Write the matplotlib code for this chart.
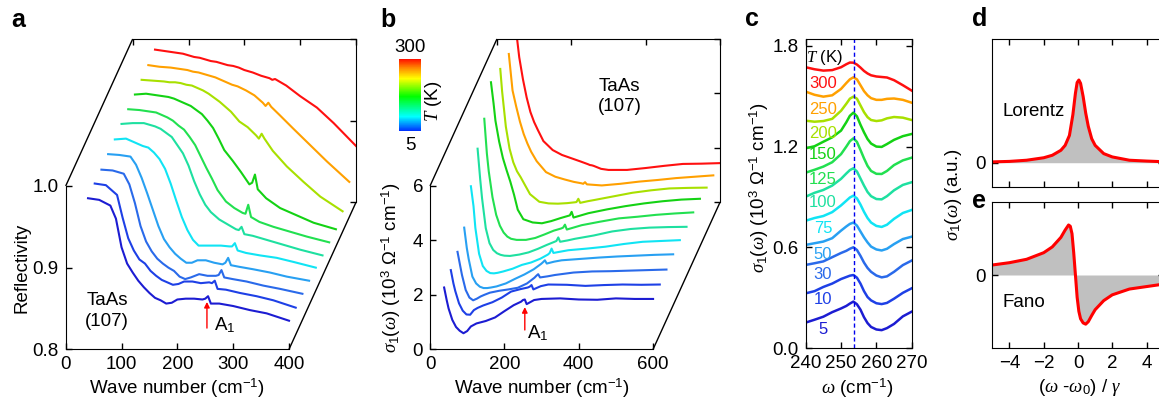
import numpy as np
import matplotlib
matplotlib.use("Agg")
import matplotlib.pyplot as plt
from matplotlib.colors import LinearSegmentedColormap, Normalize
from matplotlib.colorbar import ColorbarBase
from matplotlib.ticker import FormatStrFormatter

plt.rcParams['font.family'] = ['Liberation Sans', 'DejaVu Sans']
plt.rcParams['font.size'] = 13.5
plt.rcParams['mathtext.fontset'] = 'custom'
plt.rcParams['mathtext.rm'] = 'Liberation Sans'
plt.rcParams['mathtext.it'] = 'Liberation Serif:italic'
plt.rcParams['mathtext.bf'] = 'Liberation Sans:bold'

temps = [5, 10, 30, 50, 75, 100, 125, 150, 200, 250, 300]
colors = ['#1c1cd2', '#1e40e6', '#2a6aea', '#28a0f2', '#10e4f4', '#1ee0a0',
          '#22e050', '#14d214', '#a8e000', '#ffa000', '#ff1010']

# panel a: reflectivity, own wave number grid (cm-1)
a_wn = [40, 60, 80, 90, 100, 110, 120, 130, 140, 150, 160, 170, 180, 190, 200,
        215, 230, 245, 250, 255, 260, 275, 300, 330, 360, 400]
R_5 = [.985, .983, .976, .960, .925, .905, .894, .884, .876, .869, .863, .860, .856,
       .857, .861, .862, .862, .861, .862, .865, .856, .856, .853, .848, .844, .835]
R_10 = [.985, .983, .971, .943, .918, .903, .892, .887, .878, .872, .867, .864, .861,
        .862, .865, .865, .863, .864, .863, .866, .856, .855, .851, .847, .842, .833]
R_30 = [.984, .983, .979, .966, .943, .915, .896, .884, .875, .869, .864, .860, .853,
        .850, .852, .856, .854, .854, .855, .861, .852, .850, .847, .842, .838, .832]
R_50 = [.985, .984, .982, .972, .956, .937, .917, .897, .881, .871, .863, .857, .852,
        .852, .855, .855, .852, .850, .852, .858, .849, .847, .844, .840, .835, .830]
R_75 = [.985, .986, .980, .977, .975, .969, .961, .949, .931, .910, .890, .874, .862,
        .855, .855, .855, .855, .854, .854, .858, .849, .846, .843, .840, .835, .828]
R_100 = [.986, .987, .987, .985, .983, .980, .975, .970, .960, .950, .935, .916, .900,
         .887, .878, .869, .863, .857, .856, .860, .851, .849, .844, .838, .832, .825]
R_125 = [.986, .985, .983, .982, .979, .976, .972, .966, .961, .952, .942, .928, .914,
         .901, .887, .873, .865, .859, .858, .869, .854, .848, .842, .836, .830, .823]
R_150 = [.986, .987, .985, .984, .983, .981, .978, .975, .972, .967, .962, .954, .945,
         .932, .918, .905, .891, .876, .878, .888, .870, .859, .847, .838, .829, .821]
R_200 = [.986, .985, .984, .983, .983, .982, .980, .979, .976, .973, .969, .964, .959,
         .953, .947, .935, .928, .918, .914, .920, .914, .899, .880, .861, .843, .825]
R_250 = [.986, .984, .983, .982, .981, .980, .978, .977, .975, .973, .971, .968, .965,
         .962, .960, .955, .949, .940, .936, .940, .935, .925, .908, .888, .868, .843]
R_300 = [.987, .985, .983, .982, .980, .978, .977, .975, .973, .972, .970, .968, .967,
         .965, .962, .959, .955, .952, .950, .951, .949, .943, .930, .916, .897, .869]
a_curves = [R_5, R_10, R_30, R_50, R_75, R_100, R_125, R_150, R_200, R_250, R_300]

# panel b: optical conductivity (10^3 Ohm-1 cm-1)
nan = np.nan
b_wn = [38, 45, 50, 60, 70, 80, 90, 100, 110, 125, 150, 175, 200, 225, 245, 250,
        255, 260, 280, 300, 350, 400, 450, 500, 550, 600]
S_5 = [2.27, 1.80, 1.50, 1.08, 0.82, 0.68, 0.59, 0.67, 0.84, 0.95, 1.04, 1.17, 1.40,
       1.62, 1.75, 1.81, 1.83, 1.66, 1.81, 1.85, 1.87, 1.83, 1.82, 1.87, 1.85, 1.85]
S_10 = [2.37, 1.88, 1.60, 1.15, 0.88, 0.74, 0.73, 0.90, 0.98, 1.07, 1.19, 1.36, 1.58,
        1.67, 1.73, 1.76, 1.82, 1.66, 1.78, 1.84, 1.83, 1.79, 1.82, 1.84, 1.83, 1.84]
S_30 = [2.50, 2.00, 1.65, 1.10, 0.82, 0.72, 0.78, 0.86, 0.92, 1.00, 1.07, 1.12, 1.18,
        1.34, 1.55, 1.62, 1.68, 1.56, 1.60, 1.65, 1.74, 1.78, 1.79, 1.81, 1.83, 1.85]
S_50 = [2.85, 2.10, 1.70, 1.05, 0.80, 0.68, 0.63, 0.63, 0.65, 0.69, 0.80, 0.97, 1.13,
        1.32, 1.52, 1.58, 1.65, 1.53, 1.60, 1.65, 1.70, 1.75, 1.79, 1.82, 1.85, 1.87]
S_75 = [3.83, 3.10, 2.30, 1.35, 0.90, 0.72, 0.64, 0.63, 0.65, 0.70, 0.80, 0.94, 1.03,
        1.17, 1.32, 1.38, 1.54, 1.38, 1.43, 1.48, 1.54, 1.61, 1.71, 1.79, 1.82, 1.85]
S_100 = [4.67, 3.55, 2.85, 1.75, 1.20, 0.95, 0.83, 0.77, 0.74, 0.73, 0.78, 0.86, 0.99,
         1.14, 1.25, 1.28, 1.41, 1.25, 1.30, 1.36, 1.48, 1.63, 1.72, 1.77, 1.79, 1.80]
S_125 = [5.23, 3.95, 3.30, 2.35, 1.70, 1.30, 1.05, 0.90, 0.82, 0.78, 0.78, 0.85, 0.98,
         1.12, 1.20, 1.23, 1.34, 1.16, 1.24, 1.32, 1.45, 1.57, 1.63, 1.70, 1.75, 1.79]
S_150 = [6.03, 5.25, 4.62, 3.85, 3.25, 2.80, 2.38, 1.90, 1.35, 1.00, 0.88, 0.85, 0.93,
         1.04, 1.12, 1.14, 1.27, 1.06, 1.14, 1.22, 1.36, 1.48, 1.58, 1.66, 1.72, 1.75]
S_200 = [nan, 5.98, 5.15, 3.86, 3.05, 2.55, 2.22, 2.00, 1.75, 1.38, 1.10, 1.04, 1.03,
         1.05, 1.08, 1.09, 1.21, 1.06, 1.12, 1.17, 1.30, 1.43, 1.52, 1.59, 1.61, 1.62]
S_250 = [nan, nan, 5.99, 4.65, 4.05, 3.50, 3.05, 2.70, 2.40, 2.05, 1.65, 1.48, 1.38,
         1.29, 1.24, 1.22, 1.28, 1.20, 1.18, 1.16, 1.22, 1.30, 1.36, 1.43, 1.48, 1.53]
S_300 = [nan, nan, 6.50, 5.33, 4.52, 3.85, 3.32, 2.95, 2.66, 2.25, 1.92, 1.74, 1.62,
         1.50, 1.40, 1.37, 1.36, 1.34, 1.23, 1.19, 1.19, 1.26, 1.34, 1.41, 1.42, 1.44]
b_curves = [S_5, S_10, S_30, S_50, S_75, S_100, S_125, S_150, S_200, S_250, S_300]

# panel c: A1 phonon region, curves offset for clarity
c_w = [240, 242.5, 245, 247.5, 250, 251.5, 252.5, 253.5, 254.5, 255.5, 256.5, 257.5,
       258.5, 260, 261.5, 263, 265, 267.5, 270]
c_5 = [0.153, 0.170, 0.188, 0.215, 0.237, 0.252, 0.266, 0.278, 0.262, 0.230, 0.185,
       0.150, 0.127, 0.112, 0.108, 0.120, 0.145, 0.190, 0.218]
c_10 = [0.327, 0.340, 0.365, 0.385, 0.412, 0.424, 0.432, 0.436, 0.420, 0.385, 0.340,
        0.305, 0.285, 0.268, 0.263, 0.270, 0.295, 0.330, 0.357]
c_30 = [0.496, 0.506, 0.517, 0.542, 0.567, 0.580, 0.592, 0.601, 0.585, 0.550, 0.510,
        0.478, 0.455, 0.433, 0.422, 0.428, 0.455, 0.495, 0.522]
c_50 = [0.615, 0.625, 0.635, 0.655, 0.700, 0.725, 0.740, 0.748, 0.730, 0.695, 0.660,
        0.630, 0.605, 0.588, 0.582, 0.592, 0.620, 0.650, 0.664]
c_75 = [0.759, 0.775, 0.787, 0.810, 0.850, 0.878, 0.897, 0.908, 0.892, 0.855, 0.812,
        0.775, 0.748, 0.728, 0.722, 0.735, 0.770, 0.805, 0.823]
c_100 = [0.902, 0.925, 0.942, 0.968, 1.008, 1.040, 1.060, 1.071, 1.052, 1.010, 0.968,
         0.930, 0.905, 0.888, 0.886, 0.905, 0.940, 0.972, 0.988]
c_125 = [1.045, 1.062, 1.081, 1.107, 1.155, 1.200, 1.232, 1.249, 1.228, 1.180, 1.130,
         1.085, 1.055, 1.038, 1.037, 1.055, 1.090, 1.118, 1.134]
c_150 = [1.190, 1.202, 1.229, 1.255, 1.295, 1.345, 1.383, 1.402, 1.380, 1.330, 1.285,
         1.245, 1.218, 1.200, 1.198, 1.215, 1.240, 1.262, 1.275]
c_200 = [1.354, 1.348, 1.352, 1.365, 1.413, 1.455, 1.485, 1.497, 1.485, 1.445, 1.405,
         1.375, 1.358, 1.352, 1.356, 1.368, 1.376, 1.372, 1.358]
c_250 = [1.527, 1.508, 1.497, 1.505, 1.543, 1.578, 1.600, 1.612, 1.600, 1.565, 1.530,
         1.505, 1.488, 1.478, 1.478, 1.484, 1.486, 1.478, 1.461]
c_300 = [1.672, 1.660, 1.652, 1.655, 1.672, 1.690, 1.700, 1.699, 1.688, 1.670, 1.650,
         1.635, 1.624, 1.617, 1.614, 1.611, 1.595, 1.565, 1.533]
c_curves = [c_5, c_10, c_30, c_50, c_75, c_100, c_125, c_150, c_200, c_250, c_300]
a1_line = 253.6

# panels d, e: model line shapes
d_x = [-5, -4, -3, -2, -1.5, -1, -0.75, -0.5, -0.3, -0.15, -0.05, 0.05, 0.15, 0.3,
       0.45, 0.6, 0.8, 1.0, 1.5, 2, 3, 4, 5]
lorentz = [0.01, 0.016, 0.03, 0.06, 0.09, 0.15, 0.21, 0.33, 0.58, 0.84, 0.97, 1.0,
           0.96, 0.80, 0.60, 0.44, 0.29, 0.21, 0.11, 0.07, 0.03, 0.02, 0.012]
e_x = [-5, -4, -3, -2, -1.5, -1, -0.75, -0.55, -0.45, -0.35, -0.25, -0.15, -0.05,
       0.05, 0.15, 0.3, 0.45, 0.6, 0.8, 1.0, 1.5, 2, 3, 4, 5]
fano = [0.121, 0.149, 0.19, 0.27, 0.34, 0.455, 0.544, 0.605, 0.59, 0.50, 0.27, 0.0,
        -0.27, -0.44, -0.53, -0.58, -0.595, -0.565, -0.49, -0.42, -0.31, -0.24,
        -0.17, -0.14, -0.11]

W, H = 1159, 405
fig = plt.figure(figsize=(W / 100, H / 100), dpi=100)


def box(l, t, r, b):
    return [l / W, 1 - b / H, (r - l) / W, (b - t) / H]


def waterfall(ax, wn, curves, xmax, ylo, yhi, dx, dy, xt, yt):
    n = len(curves)
    sx, sy = dx * (n - 1), dy * (n - 1)
    for i, vals in enumerate(curves):
        ax.plot(np.array(wn, float) + i * dx, np.array(vals, float) + i * dy,
                color=colors[i], lw=1.5)
    ax.set_xlim(0, xmax + sx)
    ax.set_ylim(ylo, yhi + sy)
    ax.spines['left'].set_bounds(ylo, yhi)
    ax.spines['bottom'].set_bounds(0, xmax)
    ax.spines['top'].set_bounds(sx, xmax + sx)
    ax.spines['right'].set_bounds(ylo + sy, yhi + sy)
    kw = dict(color='k', lw=1.0, clip_on=False, solid_capstyle='butt')
    ax.plot([0, sx], [yhi, yhi + sy], **kw)
    ax.plot([xmax, xmax + sx], [ylo, ylo + sy], **kw)
    ax.set_xticks(xt)
    ax.set_yticks(yt)
    ax.tick_params(direction='in', length=4.5, width=1, pad=5, top=False, right=False)
    top = ax.secondary_xaxis('top', functions=(lambda x: x - sx, lambda x: x + sx))
    top.set_ticks(xt, labels=[''] * len(xt))
    top.tick_params(direction='in', length=4.5, width=1)
    right = ax.secondary_yaxis('right', functions=(lambda y: y - sy, lambda y: y + sy))
    right.set_ticks(yt, labels=[''] * len(yt))
    right.tick_params(direction='in', length=4.5, width=1)
    for s in list(top.spines.values()) + list(right.spines.values()):
        s.set_visible(False)
    fx = (xmax / 2) / (xmax + sx)
    fy = ((ylo + yhi) / 2 - ylo) / (yhi + sy - ylo)
    return fx, fy


sig_label = r'$\sigma_1$($\omega$) (10$^3$ $\Omega^{-1}$ cm$^{-1}$)'
wn_label = r'Wave number (cm$^{-1}$)'

# ---- a
axa = fig.add_axes(box(65.7, 39, 356, 349.3))
fx, fy = waterfall(axa, a_wn, a_curves, 400, 0.8, 1.0, 12, 0.018,
                   [0, 100, 200, 300, 400], [0.8, 0.9, 1.0])
axa.yaxis.set_major_formatter(FormatStrFormatter('%.1f'))
axa.text(fx, -0.125, wn_label, transform=axa.transAxes, ha='center', va='center')
axa.text(-0.152, fy, 'Reflectivity', transform=axa.transAxes, rotation=90,
         ha='center', va='center')
axa.text(74, 0.847, 'TaAs\n(107)', ha='center', va='center', linespacing=1.25)
axa.annotate('', xy=(253, 0.858), xytext=(253, 0.826),
             arrowprops=dict(arrowstyle='-|>', color='red', lw=1, mutation_scale=8,
                             shrinkA=0, shrinkB=0))
axa.text(266, 0.830, r'A$_1$', ha='left', va='center')

# ---- b
axb = fig.add_axes(box(430, 39, 720, 349.3))
fx, fy = waterfall(axb, b_wn, b_curves, 600, 0, 6, 18, 0.54,
                   [0, 200, 400, 600], [0, 2, 4, 6])
axb.text(fx, -0.125, wn_label, transform=axb.transAxes, ha='center', va='center')
axb.text(-0.133, fy, sig_label, transform=axb.transAxes, rotation=90,
         ha='center', va='center')
axb.text(510, 9.3, 'TaAs\n(107)', ha='center', va='center', linespacing=1.25)
axb.annotate('', xy=(255, 1.55), xytext=(255, 0.71),
             arrowprops=dict(arrowstyle='-|>', color='red', lw=1, mutation_scale=8,
                             shrinkA=0, shrinkB=0))
axb.text(262, 0.60, r'A$_1$', ha='left', va='center')

cmap = LinearSegmentedColormap.from_list(
    'tk', [(0, '#0030ff'), (0.2, '#00ffff'), (0.48, '#00ff00'), (0.73, '#ffff00'),
           (0.87, '#ff9000'), (1, '#ff1000')])
cax = fig.add_axes(box(399, 59, 421, 131))
cb = ColorbarBase(cax, cmap=cmap, norm=Normalize(temps[0], temps[-1]))
cb.set_ticks([])
cb.outline.set_visible(False)
fig.text(410 / W, 1 - 47 / H, str(temps[-1]), ha='center', va='center')
fig.text(410 / W, 1 - 145 / H, str(temps[0]), ha='center', va='center')
fig.text(433 / W, 1 - 101 / H, r'$T$ (K)', rotation=90, ha='center', va='center')

# ---- c
axc = fig.add_axes(box(805.7, 39, 911.7, 348.3))
for i, vals in enumerate(c_curves):
    axc.plot(c_w, vals, color=colors[i], lw=1.8)
    axc.text(244.9, vals[2] - 0.075, str(temps[i]), color=colors[i], fontsize=12,
             ha='center', va='center')
axc.axvline(a1_line, color='#0000ee', ls=(0, (3, 2)), lw=1)
axc.text(245.4, 1.73, r'$T$ (K)', fontsize=12, ha='center', va='center')
axc.set_xlim(240, 270)
axc.set_ylim(0, 1.84)
axc.set_xticks([240, 250, 260, 270])
axc.set_yticks([0, 0.6, 1.2, 1.8])
axc.yaxis.set_major_formatter(FormatStrFormatter('%.1f'))
axc.tick_params(direction='in', top=True, right=True, length=4.5, width=1, pad=5)
axc.text(0.49, -0.128, r'$\omega$ (cm$^{-1}$)', transform=axc.transAxes,
         ha='center', va='center')
axc.text(-0.435, 0.52, sig_label, transform=axc.transAxes, rotation=90,
         ha='center', va='center')

# ---- d
axd = fig.add_axes(box(992.3, 39, 1163.7, 186.7))
axd.fill_between(d_x, 0, lorentz, color='#c0c0c0', lw=0)
axd.plot(d_x, lorentz, color='red', lw=2.2)
axd.set_xlim(-5, 5)
axd.set_ylim(-0.29, 1.496)
axd.set_xticks([-4, -2, 0, 2, 4])
axd.set_xticklabels([])
axd.set_yticks([0])
axd.tick_params(direction='in', top=True, right=True, length=4.5, width=1, pad=5)
axd.text(-4.43, 0.62, 'Lorentz', ha='left', va='center')

# ---- e
axe = fig.add_axes(box(992.3, 201.7, 1163.7, 348.3))
axe.fill_between(e_x, 0, fano, color='#c0c0c0', lw=0)
axe.plot(e_x, fano, color='red', lw=2.2)
axe.set_xlim(-5, 5)
axe.set_ylim(-0.887, 0.887)
axe.set_xticks([-4, -2, 0, 2, 4])
axe.set_yticks([0])
axe.tick_params(direction='in', top=True, right=True, length=4.5, width=1, pad=5)
axe.text(-4.43, -0.33, 'Fano', ha='left', va='center')

fig.text(953 / W, 1 - 195 / H, r'$\sigma_1$($\omega$) (a.u.)', rotation=90,
         ha='center', va='center')
fig.text(1080 / W, 1 - 388 / H, r'($\omega$ -$\omega_0$) / $\gamma$',
         ha='center', va='center')

for lab, x, y in [('a', 11, 27), ('b', 380, 27), ('c', 745, 26), ('d', 972, 26),
                  ('e', 972, 208)]:
    fig.text(x / W, 1 - y / H, lab, fontsize=18, fontweight='bold', ha='left',
             va='baseline')

fig.savefig('out.png', dpi=100)
